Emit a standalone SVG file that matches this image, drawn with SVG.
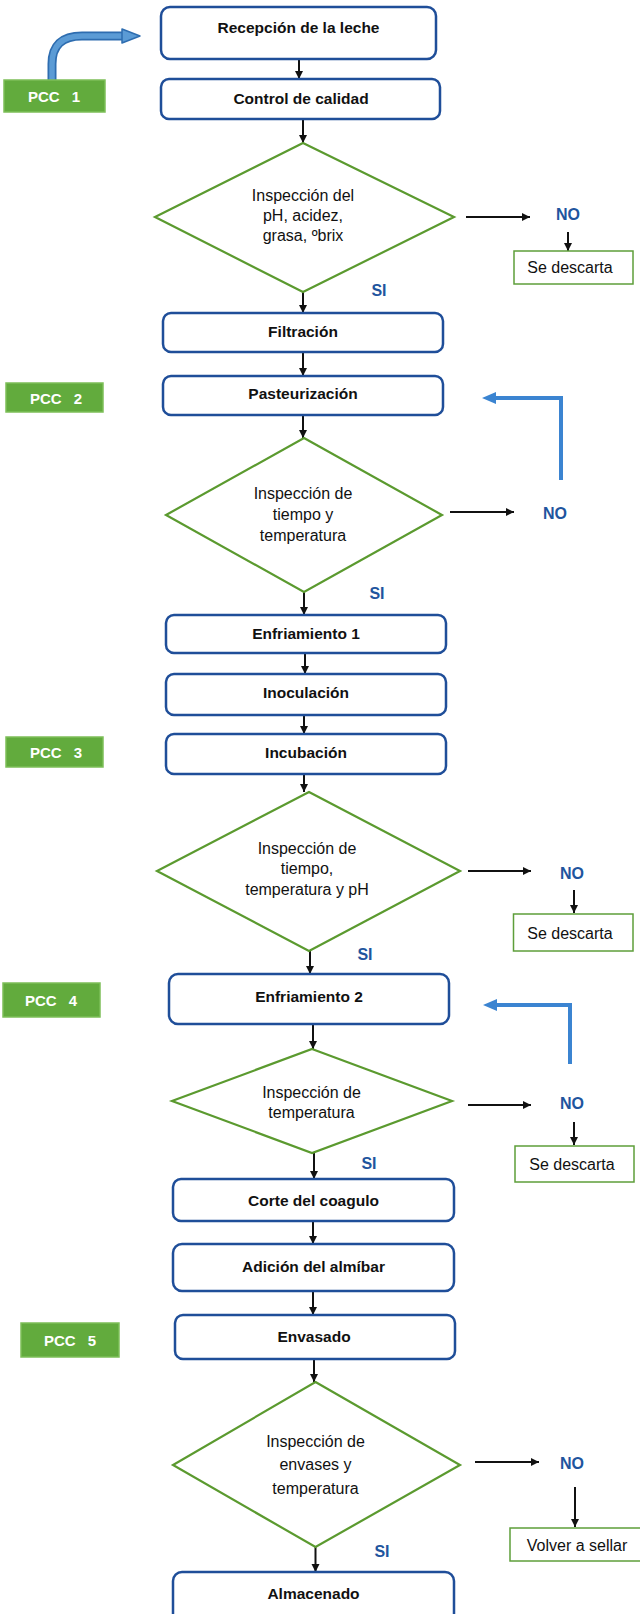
<svg xmlns="http://www.w3.org/2000/svg" width="640" height="1614" viewBox="0 0 640 1614">
<defs>
<style>
.box{fill:#fff;stroke:#1f4e99;stroke-width:2.5}
.dia{fill:#fff;stroke:#5b9a2f;stroke-width:2.2}
.res{fill:#fff;stroke:#5e9e3a;stroke-width:1.5}
.pcc{fill:#62ab3d;stroke:#7dbf58;stroke-width:1.5}
.bt{font-family:"Liberation Sans",Arial,sans-serif;font-weight:bold;font-size:15.5px;fill:#111;text-anchor:middle;dominant-baseline:central}
.rt{font-family:"Liberation Sans",Arial,sans-serif;font-size:16px;fill:#111;text-anchor:middle;dominant-baseline:central}
.lab{font-family:"Liberation Sans",Arial,sans-serif;font-weight:bold;font-size:16px;fill:#1f559e;text-anchor:middle;dominant-baseline:central}
.pt{font-family:"Liberation Sans",Arial,sans-serif;font-weight:bold;font-size:15px;fill:#fff;text-anchor:middle;dominant-baseline:central;word-spacing:8px}
.ar{stroke:#111;stroke-width:2;fill:none;marker-end:url(#ah)}
.ret{stroke:#3b84d1;stroke-width:4;fill:none}
</style>
<marker id="ah" markerUnits="userSpaceOnUse" markerWidth="9" markerHeight="9" refX="8" refY="4.5" orient="auto">
<path d="M0,0.5 L8,4.5 L0,8.5 z" fill="#111"/>
</marker>
</defs>

<g id="connectors">
<line class="ar" x1="299" y1="59" x2="299" y2="79"/>
<line class="ar" x1="303" y1="119" x2="303" y2="143"/>
<line class="ar" x1="303" y1="292" x2="303" y2="313"/>
<line class="ar" x1="303" y1="352" x2="303" y2="376"/>
<line class="ar" x1="303" y1="415" x2="303" y2="438"/>
<line class="ar" x1="304" y1="592" x2="304" y2="615"/>
<line class="ar" x1="305" y1="653" x2="305" y2="674"/>
<line class="ar" x1="304" y1="715" x2="304" y2="734"/>
<line class="ar" x1="304" y1="774" x2="304" y2="792"/>
<line class="ar" x1="310" y1="951" x2="310" y2="974"/>
<line class="ar" x1="313" y1="1024" x2="313" y2="1049"/>
<line class="ar" x1="314" y1="1153" x2="314" y2="1179"/>
<line class="ar" x1="313" y1="1221" x2="313" y2="1244"/>
<line class="ar" x1="313" y1="1291" x2="313" y2="1315"/>
<line class="ar" x1="314" y1="1359" x2="314" y2="1382"/>
<line class="ar" x1="315.5" y1="1547" x2="315.5" y2="1572"/>
<line class="ar" x1="466" y1="217" x2="530" y2="217"/>
<line class="ar" x1="450" y1="512" x2="514" y2="512"/>
<line class="ar" x1="468" y1="871" x2="531" y2="871"/>
<line class="ar" x1="468" y1="1105" x2="531" y2="1105"/>
<line class="ar" x1="475" y1="1462" x2="539" y2="1462"/>
<line class="ar" x1="568" y1="232" x2="568" y2="251"/>
<line class="ar" x1="574" y1="890" x2="574" y2="913"/>
<line class="ar" x1="574" y1="1122" x2="574" y2="1145"/>
<line class="ar" x1="575" y1="1487" x2="575" y2="1527"/>
<path class="ret" d="M561 480 V398 H492"/>
<polygon points="482,398 496,392 496,404" fill="#3b84d1"/>
<path class="ret" d="M570 1064 V1005 H493"/>
<polygon points="483,1005 497,999 497,1011" fill="#3b84d1"/>
<path d="M52 80 V64 Q52 36 82 36 H124" stroke="#2e6db0" stroke-width="9" fill="none"/>
<path d="M52 81 V64 Q52 36 82 36 H125" stroke="#5b9bd5" stroke-width="5.5" fill="none"/>
<polygon points="122,29 140,36 122,43" fill="#5b9bd5" stroke="#2e6db0" stroke-width="1.5" stroke-linejoin="round"/>
</g>

<g id="pcc1"><rect class="pcc" x="4" y="80" width="101" height="32"/><text class="pt" x="54" y="96">PCC 1</text></g>
<g id="pcc2"><rect class="pcc" x="6" y="383" width="97" height="29"/><text class="pt" x="56" y="398">PCC 2</text></g>
<g id="pcc3"><rect class="pcc" x="6" y="737" width="97" height="30"/><text class="pt" x="56" y="752">PCC 3</text></g>
<g id="pcc4"><rect class="pcc" x="3" y="983" width="97" height="34"/><text class="pt" x="51" y="1000">PCC 4</text></g>
<g id="pcc5"><rect class="pcc" x="21" y="1323" width="98" height="34"/><text class="pt" x="70" y="1340">PCC 5</text></g>

<g id="recepcion"><rect class="box" x="161" y="7" width="275" height="52" rx="9"/><text class="bt" x="298.5" y="27">Recepción de la leche</text></g>
<g id="control"><rect class="box" x="161" y="79" width="279" height="40" rx="8"/><text class="bt" x="301" y="98">Control de calidad</text></g>
<g id="filtracion"><rect class="box" x="163" y="313" width="280" height="39" rx="8"/><text class="bt" x="303" y="331">Filtración</text></g>
<g id="pasteurizacion"><rect class="box" x="163" y="376" width="280" height="39" rx="8"/><text class="bt" x="303" y="393">Pasteurización</text></g>
<g id="enfriamiento1"><rect class="box" x="166" y="615" width="280" height="38" rx="8"/><text class="bt" x="306" y="633">Enfriamiento 1</text></g>
<g id="inoculacion"><rect class="box" x="166" y="674" width="280" height="41" rx="8"/><text class="bt" x="306" y="692">Inoculación</text></g>
<g id="incubacion"><rect class="box" x="166" y="734" width="280" height="40" rx="8"/><text class="bt" x="306" y="752">Incubación</text></g>
<g id="enfriamiento2"><rect class="box" x="169" y="974" width="280" height="50" rx="9"/><text class="bt" x="309" y="996">Enfriamiento 2</text></g>
<g id="corte"><rect class="box" x="173" y="1179" width="281" height="42" rx="8"/><text class="bt" x="313.5" y="1200">Corte del coagulo</text></g>
<g id="adicion"><rect class="box" x="173" y="1244" width="281" height="47" rx="9"/><text class="bt" x="313.5" y="1266">Adición del almíbar</text></g>
<g id="envasado"><rect class="box" x="175" y="1315" width="280" height="44" rx="8"/><text class="bt" x="314" y="1336">Envasado</text></g>
<g id="almacenado"><rect class="box" x="173" y="1572" width="281" height="60" rx="9"/><text class="bt" x="313.5" y="1593">Almacenado</text></g>

<g id="insp1"><polygon class="dia" points="303,143 454,217 303,292 155,217"/>
<text class="rt" x="303" y="195">Inspección del</text><text class="rt" x="303" y="215">pH, acidez,</text><text class="rt" x="303" y="235">grasa, ºbrix</text></g>
<g id="insp2"><polygon class="dia" points="304,438 442,515 304,592 166,515"/>
<text class="rt" x="303" y="493">Inspección de</text><text class="rt" x="303" y="514">tiempo y</text><text class="rt" x="303" y="535">temperatura</text></g>
<g id="insp3"><polygon class="dia" points="309,792 460,871 309,951 157,871"/>
<text class="rt" x="307" y="848">Inspección de</text><text class="rt" x="307" y="868">tiempo,</text><text class="rt" x="307" y="889">temperatura y pH</text></g>
<g id="insp4"><polygon class="dia" points="312,1049 452,1101 312,1153 172,1101"/>
<text class="rt" x="311.5" y="1092">Inspección de</text><text class="rt" x="311.5" y="1112">temperatura</text></g>
<g id="insp5"><polygon class="dia" points="315.5,1382 460,1465 315.5,1547 173,1465"/>
<text class="rt" x="315.5" y="1441">Inspección de</text><text class="rt" x="315.5" y="1464">envases y</text><text class="rt" x="315.5" y="1488">temperatura</text></g>

<g id="descarta1"><rect class="res" x="514" y="251" width="119" height="33"/><text class="rt" x="570" y="267">Se descarta</text></g>
<g id="descarta2"><rect class="res" x="513.5" y="914" width="119.5" height="37"/><text class="rt" x="570" y="933">Se descarta</text></g>
<g id="descarta3"><rect class="res" x="515" y="1146" width="119" height="36"/><text class="rt" x="572" y="1164">Se descarta</text></g>
<g id="sellar"><rect class="res" x="510" y="1528" width="135" height="33"/><text class="rt" x="577" y="1545">Volver a sellar</text></g>

<g id="labels">
<text class="lab" x="568" y="214">NO</text>
<text class="lab" x="555" y="513">NO</text>
<text class="lab" x="572" y="873">NO</text>
<text class="lab" x="572" y="1103">NO</text>
<text class="lab" x="572" y="1463">NO</text>
<text class="lab" x="379" y="290">SI</text>
<text class="lab" x="377" y="593">SI</text>
<text class="lab" x="365" y="954">SI</text>
<text class="lab" x="369" y="1163">SI</text>
<text class="lab" x="382" y="1551">SI</text>
</g>
</svg>
